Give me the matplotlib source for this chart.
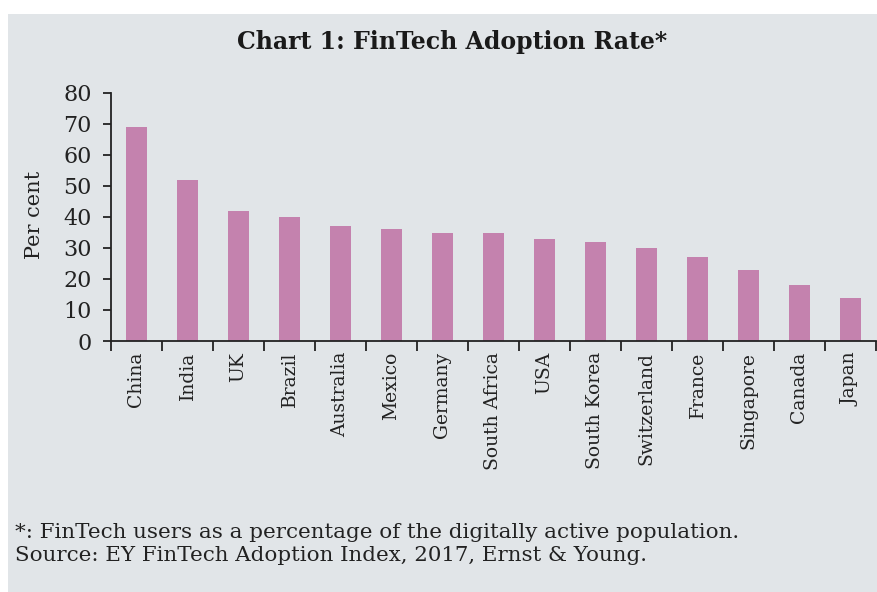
import matplotlib
matplotlib.use("Agg")
import matplotlib.pyplot as plt
from matplotlib.patches import Rectangle
import numpy as np

countries = ["China", "India", "UK", "Brazil", "Australia", "Mexico", "Germany",
             "South Africa", "USA", "South Korea", "Switzerland", "France",
             "Singapore", "Canada", "Japan"]
values = [69, 52, 42, 40, 37, 36, 35, 35, 33, 32, 30, 27, 23, 18, 14]
yticks = [0, 10, 20, 30, 40, 50, 60, 70, 80]

W, H = 878, 592
fig = plt.figure(figsize=(W / 100, H / 100), dpi=100, facecolor="white")
bg = "#e1e5e8"
fig.patches.append(Rectangle((8 / W, 0), 1 - 8 / W, 1 - 14 / H, transform=fig.transFigure,
                             facecolor=bg, edgecolor="none", zorder=-5))

ax = fig.add_axes([111 / W, (H - 341) / H, (876 - 111) / W, (341 - 93) / H])
ax.set_zorder(2)
ax.set_facecolor("none")
x = np.arange(len(countries))
ax.bar(x, values, width=0.42, color="#c482ae")
ax.set_xlim(-0.5, len(countries) - 0.5)
ax.set_ylim(0, 80)
ax.set_yticks(yticks)
ax.set_yticklabels([str(t) for t in yticks], fontsize=16, family="DejaVu Serif", color="#222222")
ax.set_xticks(x)
ax.set_xticklabels(countries, rotation=90, fontsize=13.5, family="DejaVu Serif", color="#222222")
ax.tick_params(axis="x", length=0, pad=8)
ax.set_xticks(np.arange(len(countries) + 1) - 0.5, minor=True)
ax.tick_params(axis="x", which="minor", length=7, width=1.3, color="#222222")
ax.tick_params(axis="y", length=6, width=1.3, color="#222222", pad=8)
for s in ["top", "right"]:
    ax.spines[s].set_visible(False)
for s in ["left", "bottom"]:
    ax.spines[s].set_linewidth(1.3)
    ax.spines[s].set_color("#222222")

fig.text(35 / W, 1 - 215 / H, "Per cent", rotation=90, ha="center", va="center",
         fontsize=15, family="DejaVu Serif", color="#222222")
fig.text(452 / W, 1 - 42 / H, "Chart 1: FinTech Adoption Rate*", ha="center", va="center",
         fontsize=17, fontweight="bold", family="DejaVu Serif", color="#1a1a1a")
fig.text(15 / W, 1 - 538 / H, "*: FinTech users as a percentage of the digitally active population.",
         ha="left", va="baseline", fontsize=15.4, family="DejaVu Serif", color="#222222")
fig.text(15 / W, 1 - 561 / H, "Source: EY FinTech Adoption Index, 2017, Ernst & Young.",
         ha="left", va="baseline", fontsize=15.4, family="DejaVu Serif", color="#222222")

fig.savefig("out.png", dpi=100, facecolor="white")
